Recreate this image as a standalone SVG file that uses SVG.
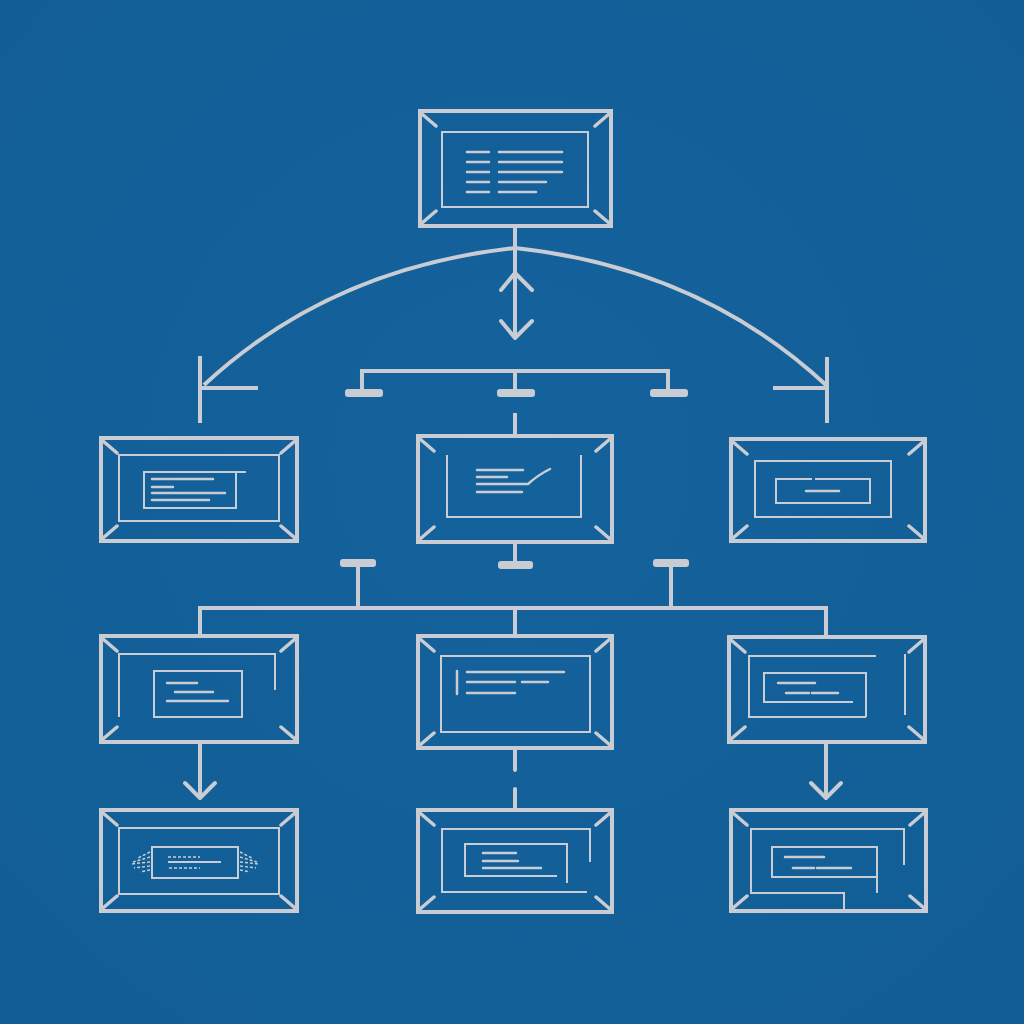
<svg xmlns="http://www.w3.org/2000/svg" width="1024" height="1024" viewBox="0 0 1024 1024">
<defs>
<radialGradient id="bg" cx="50%" cy="45%" r="75%">
<stop offset="0" stop-color="#14629c"/>
<stop offset="1" stop-color="#125d96"/>
</radialGradient>
<style>
.o{fill:none;stroke:#c9cdd3;stroke-width:4}
.i{fill:none;stroke:#c9cdd3;stroke-width:2}
.t{fill:none;stroke:#c9cdd3;stroke-width:2.5;stroke-linecap:round}
.d{fill:none;stroke:#c9cdd3;stroke-width:3.5;stroke-linecap:round}
.c{fill:none;stroke:#c9cdd3;stroke-width:4}
.cr{fill:none;stroke:#c9cdd3;stroke-width:4;stroke-linecap:round;stroke-linejoin:round}
.p{fill:#c9cdd3}
.s{fill:none;stroke:#c9cdd3;stroke-width:1.5;stroke-dasharray:3 2}
</style>
</defs>
<rect width="1024" height="1024" fill="url(#bg)"/>

<g id="connectors">
<!-- top box to arc and double arrow -->
<path class="c" d="M515,226 V338"/>
<path class="cr" d="M501,290 L515,273 L532,290"/>
<path class="cr" d="M501,321 L515,338 L532,321"/>
<!-- arc -->
<path class="c" d="M204,385 Q330,268 515,248 Q700,268 826,385"/>
<path class="c" d="M200,356 V423 M200,388 H258"/>
<path class="c" d="M827,357 V423 M827,388 H773"/>
<!-- bracket -->
<path class="c" d="M362,392 V371 H668 V392 M515,371 V392"/>
<rect class="p" x="345" y="389" width="38" height="8" rx="3"/>
<rect class="p" x="497" y="389" width="38" height="8" rx="3"/>
<rect class="p" x="650" y="389" width="38" height="8" rx="3"/>
<path class="c" d="M515,413 V436"/>
<!-- middle box bottom stub -->
<path class="c" d="M515,542 V562"/>
<rect class="p" x="498" y="561" width="35" height="8" rx="3"/>
<!-- T pads -->
<rect class="p" x="340" y="559" width="36" height="8" rx="3"/>
<rect class="p" x="653" y="559" width="36" height="8" rx="3"/>
<path class="c" d="M358,565 V608 M671,565 V608"/>
<!-- bus -->
<path class="c" d="M200,636 V608 H826 V637 M515,608 V636"/>
<!-- row3 to row4 -->
<path class="c" d="M200,742 V797"/>
<path class="cr" d="M185,783 L200,798 L215,783"/>
<path class="c" d="M826,742 V797"/>
<path class="cr" d="M811,783 L826,798 L841,783"/>
<path class="cr" d="M515,750 V770 M515,789 V808"/>
</g>

<g id="node-top">
<rect class="o" x="420" y="111" width="191" height="115"/>
<path class="d" d="M422,114 L436,126 M609,114 L595,126 M422,223 L436,211 M609,223 L595,211"/>
<rect class="i" x="442" y="132" width="146" height="75"/>
<path class="t" d="M467,152 H489 M467,162 H489 M467,172 H489 M467,182 H489 M467,192 H489 M499,152 H562 M499,162 H562 M499,172 H562 M499,182 H546 M499,192 H536"/>
</g>

<g id="node-r2-left">
<rect class="o" x="101" y="438" width="196" height="103"/>
<path class="d" d="M103,441 L117,453 M295,441 L281,453 M103,538 L117,526 M295,538 L281,526"/>
<rect class="i" x="119" y="455" width="160" height="66"/>
<path class="i" d="M236,472 V508 H144 V472 H246"/>
<path class="t" d="M152,479 H213 M152,487 H173 M152,493 H225 M152,500 H209"/>
</g>

<g id="node-r2-mid">
<rect class="o" x="418" y="436" width="194" height="106"/>
<path class="d" d="M420,439 L434,451 M610,439 L596,451 M420,539 L434,527 M610,539 L596,527"/>
<path class="i" d="M447,455 V517 H581 V455"/>
<path class="t" d="M477,470 H523 M477,477 H507 M477,484 H528 Q538,475 550,469 M477,492 H522"/>
</g>

<g id="node-r2-right">
<rect class="o" x="731" y="439" width="194" height="102"/>
<path class="d" d="M733,442 L747,454 M923,442 L909,454 M733,538 L747,526 M923,538 L909,526"/>
<rect class="i" x="755" y="461" width="136" height="56"/>
<path class="i" d="M812,479 H776 V503 H870 V479 H815"/>
<path class="t" d="M806,491 H839"/>
</g>

<g id="node-r3-left">
<rect class="o" x="101" y="636" width="196" height="106"/>
<path class="d" d="M103,639 L117,651 M295,639 L281,651 M103,739 L117,727 M295,739 L281,727"/>
<path class="i" d="M119,717 V654 H275 V690"/>
<rect class="i" x="154" y="671" width="88" height="46"/>
<path class="t" d="M167,683 H197 M175,692 H213 M167,701 H228"/>
</g>

<g id="node-r3-mid">
<rect class="o" x="418" y="636" width="194" height="112"/>
<path class="d" d="M420,639 L434,651 M610,639 L596,651 M420,745 L434,733 M610,745 L596,733"/>
<rect class="i" x="441" y="656" width="149" height="76"/>
<path class="t" d="M457,671 V694 M467,672 H564 M467,682 H515 M522,682 H548 M467,693 H515"/>
</g>

<g id="node-r3-right">
<rect class="o" x="729" y="637" width="196" height="105"/>
<path class="d" d="M731,640 L745,652 M923,640 L909,652 M731,739 L745,727 M923,739 L909,727"/>
<path class="i" d="M876,656 H749 V717 H866 M905,654 V715"/>
<path class="i" d="M853,702 H764 V673 H866 V717"/>
<path class="t" d="M778,683 H815 M786,693 H809 M812,693 H838"/>
</g>

<g id="node-r4-left">
<rect class="o" x="101" y="810" width="196" height="101"/>
<path class="d" d="M103,813 L117,825 M295,813 L281,825 M103,908 L117,896 M295,908 L281,896"/>
<rect class="i" x="119" y="828" width="160" height="66"/>
<rect class="i" x="152" y="847" width="86" height="31"/>
<path class="s" d="M168,857 H200"/>
<path class="i" d="M168,862 H221"/>
<path class="s" d="M169,868 H200"/>
<path class="s" d="M150,852 L138,858 M150,857 L133,862 M150,862 L131,864 M150,866 L134,868 M150,870 L140,872 M240,852 L252,858 M240,857 L257,862 M240,862 L259,864 M240,866 L256,868 M240,870 L250,872"/>
</g>

<g id="node-r4-mid">
<rect class="o" x="418" y="810" width="194" height="102"/>
<path class="d" d="M420,813 L434,825 M610,813 L596,825 M420,909 L434,897 M610,909 L596,897"/>
<path class="i" d="M590,862 V829 H442 V892 H587"/>
<path class="i" d="M557,876 H465 V844 H567 V883"/>
<path class="t" d="M483,853 H516 M483,861 H518 M483,868 H541"/>
</g>

<g id="node-r4-right">
<rect class="o" x="731" y="810" width="195" height="101"/>
<path class="d" d="M733,813 L747,825 M924,813 L910,825 M733,908 L747,896 M924,908 L910,896"/>
<path class="i" d="M904,865 V829 H751 V893 H844 V911"/>
<path class="i" d="M877,893 V847 H772 V877 H877"/>
<path class="t" d="M785,857 H824 M793,868 H814 M817,868 H851"/>
</g>
</svg>
